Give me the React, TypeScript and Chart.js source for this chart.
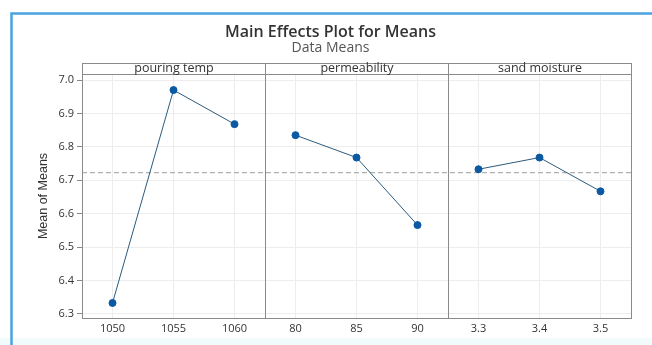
import React, { useEffect, useRef } from "react";
import { Chart, registerables } from "chart.js";

Chart.register(...registerables);

const TITLE = "Main Effects Plot for Means";
const SUBTITLE = "Data Means";
const Y_LABEL = "Mean of Means";
const FACTORS = ["pouring temp", "permeability", "sand moisture"];
const POURING_LEVELS = ["1050", "1055", "1060"];
const PERMEABILITY_LEVELS = ["80", "85", "90"];
const MOISTURE_LEVELS = ["3.3", "3.4", "3.5"];
const POURING_MEANS = [6.333, 6.97, 6.868];
const PERMEABILITY_MEANS = [6.835, 6.768, 6.566];
const MOISTURE_MEANS = [6.733, 6.768, 6.667];
const Y_MIN = 6.288;
const Y_MAX = 7.018;
const Y_STEP = 0.1;

const LEVELS = [POURING_LEVELS, PERMEABILITY_LEVELS, MOISTURE_LEVELS];
const MEANS = [POURING_MEANS, PERMEABILITY_MEANS, MOISTURE_MEANS];
const ALL = MEANS.flat();
const GRAND_MEAN = ALL.reduce((a, b) => a + b, 0) / ALL.length;

const FONT = "'Open Sans', 'Noto Sans', sans-serif";
const LINE_COLOR = "#2c5b7c";
const POINT_COLOR = "#0b58a3";
const GRID = "#ededed";
const FRAME = "#8a8a8a";

const panelPlugin = {
  id: "panels",
  beforeDraw(chart: any) {
    const ctx = chart.ctx;
    ctx.save();
    ctx.fillStyle = "#ffffff";
    ctx.fillRect(0, 0, chart.width, chart.height);
    ctx.fillStyle = "#f2fbfc";
    ctx.fillRect(0, 338, chart.width, chart.height - 338);
    ctx.strokeStyle = "#4aa3df";
    ctx.lineWidth = 2.5;
    ctx.beginPath();
    ctx.moveTo(11.5, chart.height);
    ctx.lineTo(11.5, 13.5);
    ctx.lineTo(chart.width, 13.5);
    ctx.stroke();
    ctx.restore();
  },
  beforeDatasetsDraw(chart: any) {
    const ctx = chart.ctx;
    const area = chart.chartArea;
    const y = chart.scales.y;
    const stripH = 11;
    ctx.save();
    // dashed grand mean line
    const my = y.getPixelForValue(GRAND_MEAN);
    ctx.strokeStyle = "#b0b0b0";
    ctx.lineWidth = 1.2;
    ctx.setLineDash([5, 3]);
    ctx.beginPath();
    ctx.moveTo(area.left, my);
    ctx.lineTo(area.right, my);
    ctx.stroke();
    ctx.setLineDash([]);
    // panels and strips
    ctx.strokeStyle = FRAME;
    ctx.lineWidth = 1;
    FACTORS.forEach((name, i) => {
      const sc = chart.scales["x" + i];
      const l = Math.round(sc.left) + 0.5;
      const r = Math.round(sc.right) + 0.5;
      const t = Math.round(area.top) + 0.5;
      const b = Math.round(area.bottom) + 0.5;
      ctx.strokeRect(l, t - stripH, r - l, b - t + stripH);
      ctx.beginPath();
      ctx.moveTo(l, t);
      ctx.lineTo(r, t);
      ctx.stroke();
      ctx.fillStyle = "#333333";
      ctx.font = "12.5px " + FONT;
      ctx.textAlign = "center";
      ctx.textBaseline = "middle";
      ctx.fillText(name, (l + r) / 2, t - stripH / 2 - 1);
    });
    ctx.restore();
  },
};

export default function App() {
  const ref = useRef<HTMLCanvasElement>(null);
  useEffect(() => {
    if (!ref.current) return;
    const datasets = MEANS.map((vals, i) => ({
      label: FACTORS[i],
      data: vals,
      xAxisID: "x" + i,
      yAxisID: "y",
      borderColor: LINE_COLOR,
      borderWidth: 1,
      pointBackgroundColor: POINT_COLOR,
      pointBorderColor: POINT_COLOR,
      pointRadius: 3.5,
      tension: 0,
    }));
    const xScales: any = {};
    LEVELS.forEach((labels, i) => {
      xScales["x" + i] = {
        type: "category",
        labels,
        position: "bottom",
        stack: "facets",
        stackWeight: 1,
        offset: true,
        grid: { color: GRID, offset: false, drawTicks: false },
        border: { display: true, color: FRAME },
        ticks: { color: "#333", font: { family: FONT, size: 11 }, padding: 4, maxRotation: 0 },
        afterFit: (s: any) => {
          s.height = 20;
        },
      };
    });
    const chart = new Chart(ref.current, {
      type: "line",
      data: { datasets: datasets as any },
      plugins: [panelPlugin],
      options: {
        responsive: false,
        animation: false,
        layout: { padding: { left: 30, right: 21, top: 14, bottom: 7 } },
        plugins: {
          legend: { display: false },
          tooltip: { enabled: false },
          title: {
            display: true,
            text: TITLE,
            color: "#333",
            font: { family: FONT, size: 16, weight: "600", lineHeight: 1 },
            padding: { top: 10, bottom: 0 },
          },
          subtitle: {
            display: true,
            text: SUBTITLE,
            color: "#555",
            font: { family: FONT, size: 14, lineHeight: 1 },
            padding: { top: 1, bottom: 19 },
          },
        },
        scales: {
          ...xScales,
          y: {
            type: "linear",
            position: "left",
            min: Y_MIN,
            max: Y_MAX,
            grid: { color: GRID, tickLength: 5, tickColor: "#888" },
            border: { display: true, color: FRAME },
            ticks: {
              stepSize: Y_STEP,
              includeBounds: false,
              color: "#333",
              font: { family: FONT, size: 11 },
              padding: 3,
              callback: (v: any) => Number(v).toFixed(1),
            },
            title: {
              display: true,
              text: Y_LABEL,
              color: "#333",
              font: { family: "'Liberation Sans', Arial, sans-serif", size: 12.5 },
              padding: { top: 6, bottom: 0 },
            },
            afterFit: (s: any) => {
              s.width = 52;
            },
          },
        },
      } as any,
    });
    return () => chart.destroy();
  }, []);
  return (
    <div style={{ position: "fixed", left: 0, top: 0, width: 652, height: 345 }}>
      <canvas ref={ref} width={652} height={345} style={{ display: "block" }} />
    </div>
  );
}
